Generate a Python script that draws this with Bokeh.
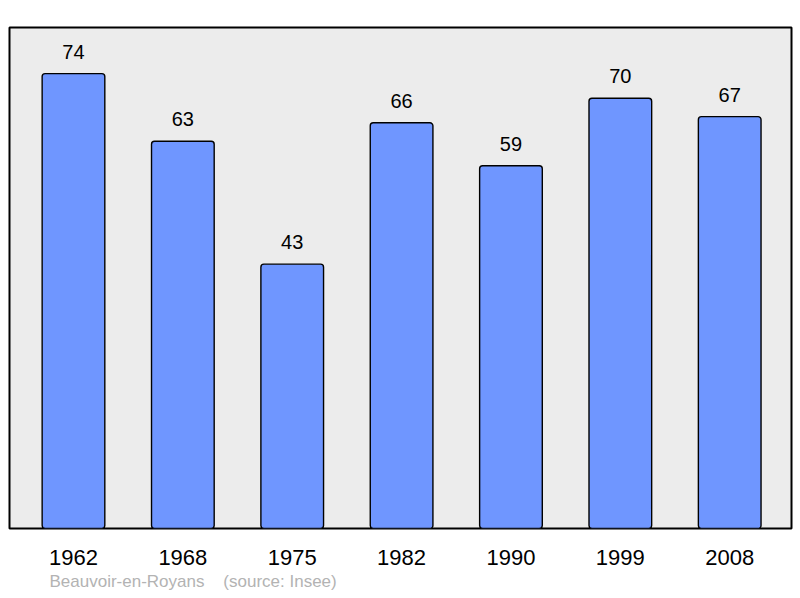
from bokeh.plotting import figure
from bokeh.models import Range1d, FixedTicker, Title
from bokeh.core.properties import value
from bokeh.embed import file_html
from bokeh.resources import INLINE

years = ["1962", "1968", "1975", "1982", "1990", "1999", "2008"]
population = [74, 63, 43, 66, 59, 70, 67]
place = "Beauvoir-en-Royans"
source_note = "(source: Insee)"

xs = list(range(len(years)))
font = "Liberation Sans"

p = figure(frame_width=782, frame_height=501, output_backend="svg",
           toolbar_location=None, x_range=Range1d(-0.585, 6.565),
           y_range=Range1d(0, 81.5), min_border_left=9, min_border_right=8,
           min_border_top=27, min_border_bottom=70)
p.background_fill_color = "#ececec"
p.border_fill_color = "white"
p.outline_line_color = "black"
p.outline_line_width = 2
p.grid.visible = False
p.yaxis.visible = False

p.vbar(x=xs, top=population, bottom=0, width=0.573, fill_color="#6f96ff",
       line_color="black", line_width=1.4, border_radius=3)
p.text(x=xs, y=population, text=[str(v) for v in population], y_offset=-22,
       text_align="center", text_baseline="alphabetic",
       text_font=value(font), text_font_size="20px", text_color="black")

ax = p.xaxis[0]
ax.ticker = FixedTicker(ticks=xs)
ax.major_label_overrides = {i: y for i, y in zip(xs, years)}
ax.axis_line_color = None
ax.major_tick_line_color = None
ax.minor_tick_line_color = None
ax.major_label_text_font = font
ax.major_label_text_font_size = "22px"
ax.major_label_text_color = "black"
ax.major_label_standoff = 15

note = Title(text=place + "\u00a0" * 3 + " " + source_note, align="left", offset=40,
             text_font=font, text_font_size="17px", text_font_style="normal",
             text_color="#b3b3b3", standoff=5)
p.add_layout(note, "below")

open("out.html", "w").write(file_html(p, INLINE))
